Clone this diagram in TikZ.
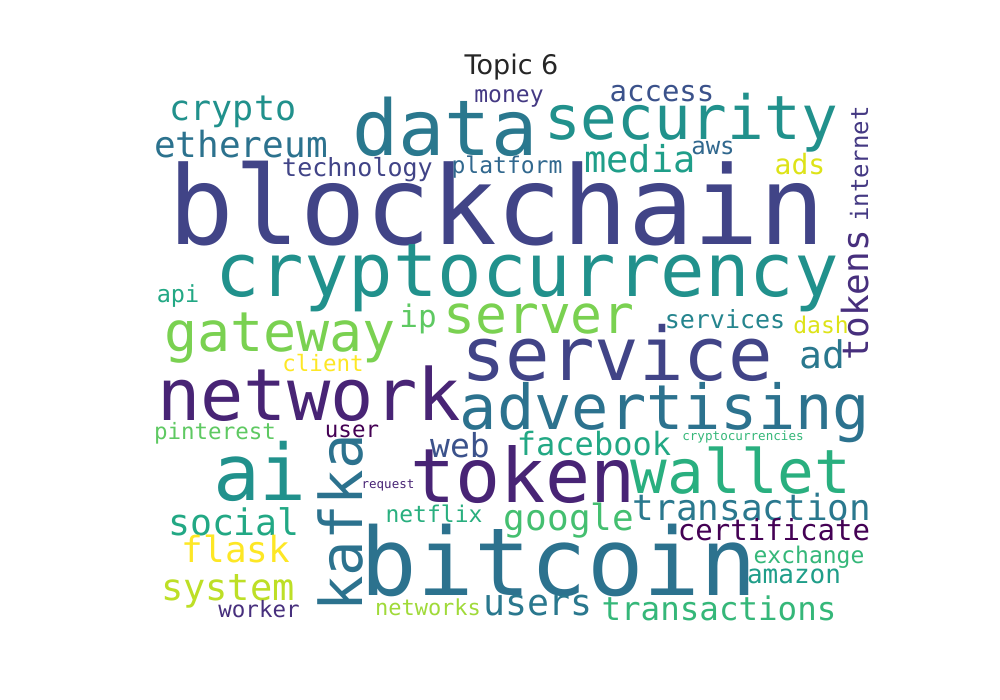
\documentclass[tikz,border=0pt]{standalone}
\usepackage{fontspec}
\newfontfamily\wcfont{DejaVu Sans Mono}
\newfontfamily\ttlfont{DejaVu Sans}
\newcommand\wsz[1]{\fontsize{#1}{#1}\selectfont}
\definecolor{vA}{HTML}{440154}
\definecolor{vB}{HTML}{482475}
\definecolor{vC}{HTML}{472F7D}
\definecolor{vD}{HTML}{443983}
\definecolor{vE}{HTML}{414487}
\definecolor{vF}{HTML}{3B528B}
\definecolor{vG}{HTML}{31688E}
\definecolor{vH}{HTML}{2C728E}
\definecolor{vI}{HTML}{2A788E}
\definecolor{vJ}{HTML}{25858E}
\definecolor{vK}{HTML}{21918C}
\definecolor{vL}{HTML}{1F9E89}
\definecolor{vM}{HTML}{22A884}
\definecolor{vN}{HTML}{29AF7F}
\definecolor{vO}{HTML}{35B779}
\definecolor{vP}{HTML}{44BF70}
\definecolor{vQ}{HTML}{5EC962}
\definecolor{vR}{HTML}{7AD151}
\definecolor{vS}{HTML}{A0DA39}
\definecolor{vT}{HTML}{BDDF26}
\definecolor{vU}{HTML}{DDE318}
\definecolor{vV}{HTML}{FDE725}
\definecolor{ttl}{HTML}{262626}
\tikzset{wd/.style={anchor=base, inner sep=0pt, outer sep=0pt, font=\wcfont}}
\begin{document}
\begin{tikzpicture}[x=1pt,y=-1pt]
\fill[white] (0,0) rectangle (1000,700);
\useasboundingbox (0,0) rectangle (1000,700);
\node[anchor=base, inner sep=0pt, font=\ttlfont, text=ttl] (title) at (511.5,75) {\wsz{27}Topic 6};
% big words
\node[wd, text=vE] (blockchain) at (497,245) {\wsz{109}blockchain};
\node[wd, text=vI] (data) at (445,156) {\wsz{77}data};
\node[wd, text=vK] (security) at (691,140) {\wsz{61}security};
\node[wd, text=vK] (crypto) at (233,121) {\wsz{35}crypto};
\node[wd, text=vH] (ethereum) at (241,158) {\wsz{36}ethereum};
\node[wd, text=vE] (technology) at (357.5,177) {\wsz{25}technology};
\node[wd, text=vD] (money) at (509,103) {\wsz{23}money};
\node[wd, text=vG] (platform) at (507,174) {\wsz{23}platform};
\node[wd, text=vF] (access) at (662,102) {\wsz{29}access};
\node[wd, text=vL] (media) at (640,173) {\wsz{37}media};
\node[wd, text=vG] (aws) at (713,155) {\wsz{24}aws};
\node[wd, text=vU] (ads) at (800,175) {\wsz{28}ads};
\node[wd, text=vD, rotate=90] (internet) at (868,164) {\wsz{24}internet};
\node[wd, text=vC, rotate=90] (tokens) at (868,295) {\wsz{36}tokens};
\node[wd, text=vK] (cryptocurrency) at (527,296) {\wsz{74}cryptocurrency};
\node[wd, text=vR] (gateway) at (280,351) {\wsz{55}gateway};
\node[wd, text=vQ] (ip) at (418,327) {\wsz{31}ip};
\node[wd, text=vR] (server) at (539,333) {\wsz{53}server};
\node[wd, text=vE] (service) at (617,380) {\wsz{74}service};
\node[wd, text=vB] (network) at (309,420) {\wsz{72}network};
\node[wd, text=vH] (advertising) at (665,429) {\wsz{62}advertising};
\node[wd, text=vI] (ad) at (822,368) {\wsz{38}ad};
\node[wd, text=vJ] (services) at (725,328) {\wsz{25}services};
\node[wd, text=vU] (dash) at (821,333) {\wsz{23}dash};
\node[wd, text=vM] (api) at (178,302) {\wsz{23.5}api};
\node[wd, text=vV] (client) at (323,371) {\wsz{22.5}client};
\node[wd, text=vQ] (pinterest) at (215,439) {\wsz{22.5}pinterest};
\node[wd, text=vA] (user) at (352,437) {\wsz{22.5}user};
\node[wd, text=vF] (web) at (460,457) {\wsz{33}web};
\node[wd, text=vM] (facebook) at (594,455) {\wsz{32}facebook};
\node[wd, text=vO] (cryptocurrencies) at (743,440) {\wsz{12.6}cryptocurrencies};
\node[wd, text=vK] (ai) at (260,500) {\wsz{78}ai};
\node[wd, text=vH, rotate=90] (kafka) at (362,523) {\wsz{59}kafka};
\node[wd, text=vB] (token) at (523,502) {\wsz{75}token};
\node[wd, text=vN] (wallet) at (741,493) {\wsz{61}wallet};
\node[wd, text=vI] (transaction) at (752,520) {\wsz{36}transaction};
\node[wd, text=vP] (google) at (569,530) {\wsz{36}google};
\node[wd, text=vA] (certificate) at (774,540) {\wsz{29}certificate};
\node[wd, text=vO] (exchange) at (809,563) {\wsz{23}exchange};
\node[wd, text=vL] (amazon) at (794,583) {\wsz{26}amazon};
\node[wd, text=vH] (bitcoin) at (559,595) {\wsz{94}bitcoin};
\node[wd, text=vI] (users) at (538,615) {\wsz{36.5}users};
\node[wd, text=vO] (transactions) at (719,620) {\wsz{32.5}transactions};
\node[wd, text=vM] (social) at (234,535) {\wsz{36.5}social};
\node[wd, text=vV] (flask) at (236,562) {\wsz{36}flask};
\node[wd, text=vT] (system) at (228,600) {\wsz{37}system};
\node[wd, text=vC] (worker) at (259,617) {\wsz{22.5}worker};
\node[wd, text=vB] (request) at (388,488) {\wsz{12.5}request};
\node[wd, text=vN] (netflix) at (434,522) {\wsz{23}netflix};
\node[wd, text=vS] (networks) at (428,615) {\wsz{22}networks};
\end{tikzpicture}
\end{document}
